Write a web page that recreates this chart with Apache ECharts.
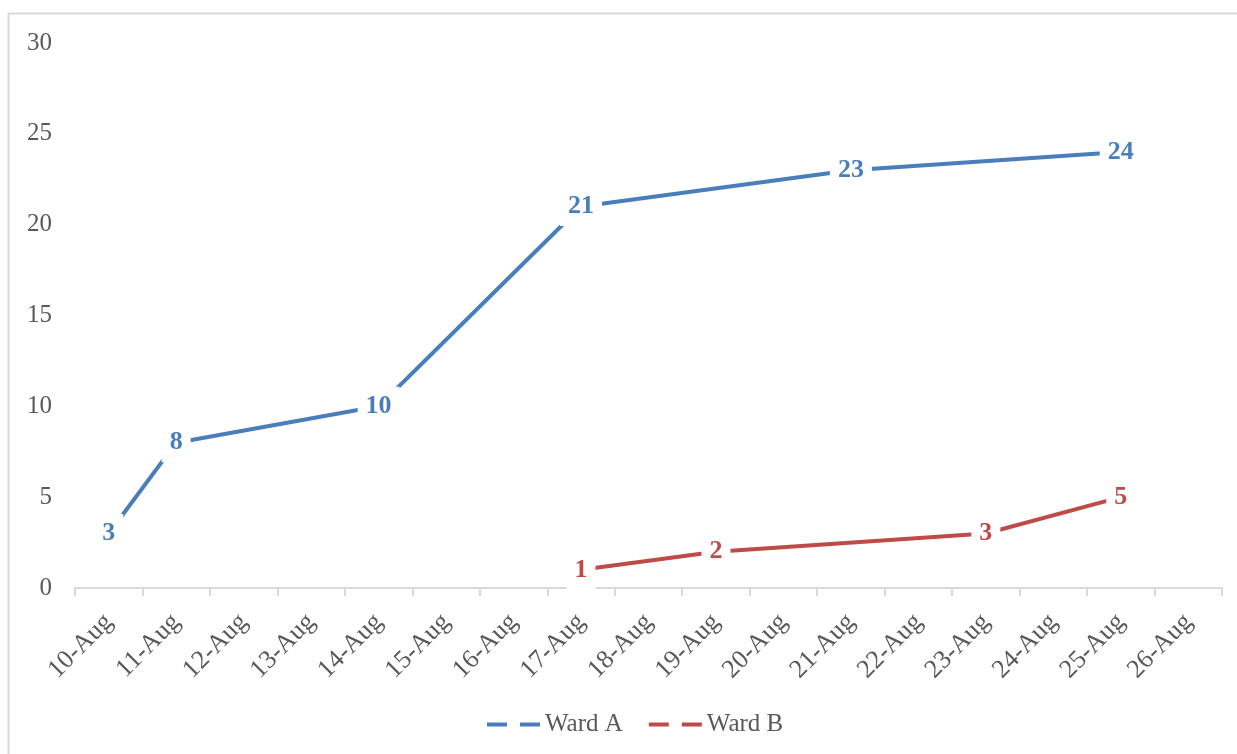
<!DOCTYPE html>
<html>
<head>
<meta charset="utf-8">
<script src="https://cdn.jsdelivr.net/npm/echarts@6/dist/echarts.min.js"></script>
<style>
html,body{margin:0;padding:0;background:#fff;}
#chart{width:1237px;height:754px;}
</style>
</head>
<body>
<div id="chart"></div>
<script>
const categories = ['10-Aug','11-Aug','12-Aug','13-Aug','14-Aug','15-Aug','16-Aug','17-Aug','18-Aug','19-Aug','20-Aug','21-Aug','22-Aug','23-Aug','24-Aug','25-Aug','26-Aug'];
const wardA = [3, 8, null, null, 10, null, null, 21, null, null, null, 23, null, null, null, 24, null];
const wardB = [null, null, null, null, null, null, null, 1, null, 2, null, null, null, 3, null, 5, null];
const seriesNames = ['Ward A', 'Ward B'];
const yTicks = [0, 5, 10, 15, 20, 25, 30];

const FONT = '"Liberation Serif", serif';
const TEXT = '#595959';
const BLUE = '#4A7EBB';
const RED = '#BE4B48';

const chart = echarts.init(document.getElementById('chart'));

function lineSeries(name, data, color) {
  return {
    name: name,
    type: 'line',
    data: data,
    connectNulls: true,
    symbol: 'circle',
    symbolSize: 1,
    itemStyle: { color: 'rgba(0,0,0,0)', borderWidth: 0 },
    lineStyle: { color: color, width: 4 },
    label: {
      show: true,
      position: 'inside',
      color: color,
      fontFamily: FONT,
      fontWeight: 'bold',
      fontSize: 26,
      lineHeight: 25,
      backgroundColor: '#fff',
      padding: [11, 8, 3, 8],
      formatter: p => p.value
    },
    emphasis: { disabled: true },
    animation: false
  };
}

chart.setOption({
  animation: false,
  backgroundColor: '#fff',
  graphic: [{
    type: 'rect',
    shape: { x: 8.5, y: 13.5, width: 1240, height: 760 },
    style: { fill: null, stroke: '#D9D9D9', lineWidth: 2 },
    silent: true,
    z: -1
  }],
  grid: { left: 75, right: 15, top: 43, bottom: 166, containLabel: false },
  legend: {
    bottom: 12,
    left: 482,
    itemWidth: 53,
    itemHeight: 4,
    itemGap: 26,
    textStyle: { color: TEXT, fontFamily: FONT, fontSize: 25 },
    data: [
      { name: seriesNames[0], icon: 'path://M0,0H20V4H0Z M33,0H53V4H33Z', itemStyle: { color: BLUE } },
      { name: seriesNames[1], icon: 'path://M0,0H20V4H0Z M33,0H53V4H33Z', itemStyle: { color: RED } }
    ]
  },
  xAxis: {
    type: 'category',
    data: categories,
    boundaryGap: true,
    axisLine: { lineStyle: { color: '#D9D9D9', width: 2 } },
    axisTick: { show: true, length: 8, lineStyle: { color: '#D9D9D9', width: 2 } },
    axisLabel: {
      rotate: 45,
      interval: 0,
      margin: 30,
      color: TEXT,
      fontFamily: FONT,
      fontSize: 26
    },
    splitLine: { show: false }
  },
  yAxis: {
    type: 'value',
    min: yTicks[0],
    max: yTicks[yTicks.length - 1],
    interval: 5,
    axisLine: { show: false },
    axisTick: { show: false },
    splitLine: { show: false },
    axisLabel: {
      margin: 23,
      color: TEXT,
      fontFamily: FONT,
      fontSize: 25
    }
  },
  series: [
    lineSeries(seriesNames[0], wardA, BLUE),
    lineSeries(seriesNames[1], wardB, RED)
  ]
});
</script>
</body>
</html>
